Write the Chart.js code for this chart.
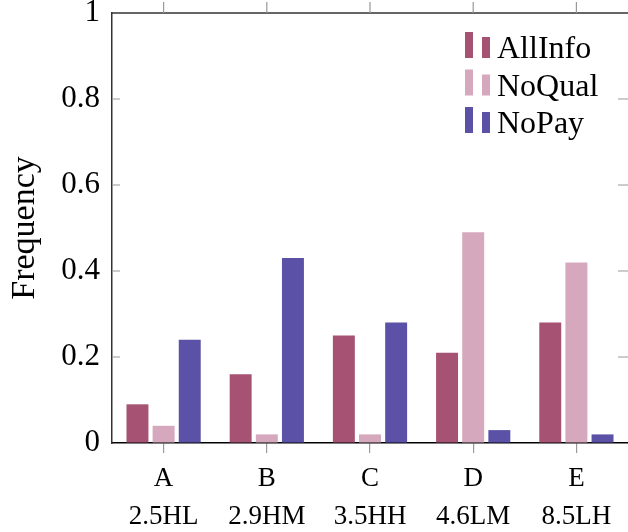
<!DOCTYPE html>
<html>
<head>
<meta charset="utf-8">
<script src="https://cdn.jsdelivr.net/npm/chart.js@4"></script>
<style>
  html, body { margin: 0; padding: 0; background: #fff; }
  #wrap { width: 628px; height: 532px; position: relative; }
</style>
</head>
<body>
<div id="wrap"><canvas id="chart"></canvas></div>
<script>
const categories = [["A", "2.5HL"], ["B", "2.9HM"], ["C", "3.5HH"], ["D", "4.6LM"], ["E", "8.5LH"]];
const allInfo = [0.09, 0.16, 0.25, 0.21, 0.28];
const noQual = [0.04, 0.02, 0.02, 0.49, 0.42];
const noPay = [0.24, 0.43, 0.28, 0.03, 0.02];
const seriesNames = ["AllInfo", "NoQual", "NoPay"];
const seriesColors = ["#a65373", "#d5a8bd", "#5b52a8"];

const serif = "'Liberation Serif', 'DejaVu Serif', serif";

// frame: top line, mirrored ticks, inward y ticks
const framePlugin = {
    id: "frame",
    afterDraw(chart) {
        const ctx = chart.ctx;
        const x = chart.scales.x, y = chart.scales.y;
        const a = chart.chartArea;
        ctx.save();
        ctx.strokeStyle = "#333";
        ctx.lineWidth = 1.5;
        ctx.beginPath();
        ctx.moveTo(a.left, a.top);
        ctx.lineTo(a.right, a.top);
        ctx.stroke();
        ctx.strokeStyle = "#999";
        ctx.lineWidth = 1.2;
        ctx.beginPath();
        x.ticks.forEach((t, i) => {
            const px = x.getPixelForTick(i);
            ctx.moveTo(px, a.top);
            ctx.lineTo(px, a.top - 11);
        });
        y.ticks.forEach((t, i) => {
            const py = y.getPixelForTick(i);
            if (i === 0 || i === y.ticks.length - 1) return;
            ctx.moveTo(a.left, py);
            ctx.lineTo(a.left + 8, py);
            ctx.moveTo(a.right, py);
            ctx.lineTo(a.right - 10, py);
        });
        ctx.stroke();
        ctx.restore();
    }
};

// legend drawn as two small bars + label like pgfplots
const legendPlugin = {
    id: "barLegend",
    afterDraw(chart) {
        const ctx = chart.ctx;
        ctx.save();
        ctx.font = "32px " + serif;
        ctx.textBaseline = "alphabetic";
        ctx.fillStyle = "#000";
        chart.data.datasets.forEach((ds, i) => {
            const base = 58 + i * 37.5;
            ctx.fillStyle = ds.backgroundColor;
            ctx.fillRect(465, base - 26, 8, 26);
            ctx.fillRect(482, base - 21, 8, 21);
            ctx.fillStyle = "#000";
            ctx.fillText(ds.label, 497, base);
        });
        ctx.restore();
    }
};

new Chart(document.getElementById("chart"), {
    type: "bar",
    data: {
        labels: categories,
        datasets: [
            { label: seriesNames[0], data: allInfo, backgroundColor: seriesColors[0] },
            { label: seriesNames[1], data: noQual, backgroundColor: seriesColors[1] },
            { label: seriesNames[2], data: noPay, backgroundColor: seriesColors[2] }
        ]
    },
    options: {
        responsive: true,
        maintainAspectRatio: false,
        animation: false,
        layout: { padding: { top: 13, right: 0, left: 0, bottom: 0 } },
        datasets: { bar: { categoryPercentage: 0.76, barPercentage: 0.84 } },
        plugins: { legend: { display: false }, tooltip: { enabled: false } },
        scales: {
            x: {
                grid: { drawOnChartArea: false, offset: false, tickLength: 10, color: "#999", tickColor: "#999", lineWidth: 1.2 },
                border: { display: true, color: "#000", width: 1.5 },
                ticks: { color: "#000", font: { family: serif, size: 27, lineHeight: 1.4 }, padding: 7, maxRotation: 0 },
                afterFit(scale) {
                    scale.height = 89;
                    scale.paddingLeft = 0;
                    scale.paddingRight = 0;
                }
            },
            y: {
                min: 0,
                max: 1,
                ticks: {
                    stepSize: 0.2, color: "#000", font: { family: serif, size: 31 }, padding: 12,
                    callback: v => String(Number(v.toFixed(1)))
                },
                grid: { drawOnChartArea: false, drawTicks: false },
                border: { display: true, color: "#333", width: 1.5 },
                title: { display: true, text: "Frequency", color: "#000", font: { family: serif, size: 34 }, padding: { top: 5, bottom: 0 } },
                afterFit(scale) {
                    scale.width = 112;
                    scale.paddingTop = 0;
                    scale.paddingBottom = 0;
                }
            }
        }
    },
    plugins: [framePlugin, legendPlugin]
});
</script>
</body>
</html>
